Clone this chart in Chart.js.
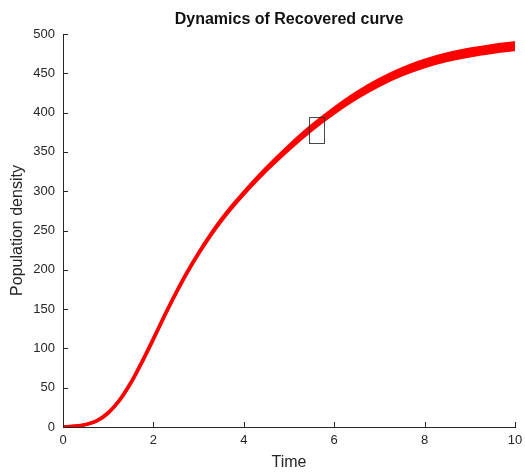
<!DOCTYPE html>
<html><head><meta charset="utf-8">
<script src="https://cdn.jsdelivr.net/npm/chart.js@4.4.1/dist/chart.umd.min.js"></script>
<style>html,body{margin:0;padding:0;background:#fff;}canvas{display:block;}</style>
</head><body>
<canvas id="c" width="525" height="473"></canvas>
<script>
const timeVals  = [0, 0.25, 0.5, 0.75, 1, 1.25, 1.5, 1.75, 2, 2.25, 2.5, 2.75, 3, 3.25, 3.5, 3.75, 4, 4.5, 5, 5.5, 6, 6.5, 7, 7.5, 8, 8.5, 9, 9.5, 10];
const upperVals = [0, 1, 3, 8, 18, 34, 56, 83.1, 112.2, 142.2, 170.8, 197.4, 221.5, 243.6, 263.8, 281.9, 298.6, 329.5, 357.5, 383, 405.4, 425.3, 442, 455.7, 466.4, 474.5, 480.6, 485.2, 488.8];
const lowerVals = [0, 1, 3, 8, 18, 34, 56, 82.9, 111.8, 141.8, 170.2, 196.6, 220.5, 242.4, 262.3, 280.1, 296.4, 326.5, 353.5, 378, 399.6, 418.8, 435, 448.3, 458.7, 466.5, 472.4, 476.8, 480.3];
const xTicks = [0, 2, 4, 6, 8, 10];
const yTicks = [0, 50, 100, 150, 200, 250, 300, 350, 400, 450, 500];
const boxT = [5.45, 5.78];
const boxV = [361, 394];
const titleText = 'Dynamics of Recovered curve';
const xLabel = 'Time';
const yLabel = 'Population density';

const axisColor = '#262626';
const FONT = '"Liberation Sans", Arial, Helvetica, sans-serif';

const inwardTicks = {
  id: 'inwardTicks',
  afterDraw(chart) {
    const {ctx, chartArea: a, scales: {x, y}} = chart;
    ctx.save();
    ctx.strokeStyle = axisColor;
    ctx.lineWidth = 1;
    ctx.beginPath();
    xTicks.forEach(v => { const px = Math.round(x.getPixelForValue(v)) + 0.5; ctx.moveTo(px, a.bottom); ctx.lineTo(px, a.bottom - 5); });
    yTicks.forEach(v => { const py = Math.round(y.getPixelForValue(v)) + 0.5; ctx.moveTo(a.left, py); ctx.lineTo(a.left + 5, py); });
    ctx.stroke();
    ctx.restore();
  }
};

const boxPlugin = {
  id: 'boxPlugin',
  afterDatasetsDraw(chart) {
    const {ctx, scales: {x, y}} = chart;
    const x0 = Math.round(x.getPixelForValue(boxT[0])) + 0.5;
    const x1 = Math.round(x.getPixelForValue(boxT[1])) + 0.5;
    const y0 = Math.round(y.getPixelForValue(boxV[1])) + 0.5;
    const y1 = Math.round(y.getPixelForValue(boxV[0])) + 0.5;
    ctx.save();
    ctx.strokeStyle = 'rgba(40,40,40,0.85)';
    ctx.lineWidth = 1;
    ctx.strokeRect(x0, y0, x1 - x0, y1 - y0);
    ctx.restore();
  }
};

new Chart(document.getElementById('c'), {
  type: 'line',
  data: {
    datasets: [
      { label: 'lower', data: timeVals.map((t, i) => ({x: t, y: lowerVals[i]})), borderColor: '#ff0000', borderWidth: 3.5, pointRadius: 0, fill: false, cubicInterpolationMode: 'monotone' },
      { label: 'upper', data: timeVals.map((t, i) => ({x: t, y: upperVals[i]})), borderColor: '#ff0000', backgroundColor: '#ff0000', borderWidth: 3.5, pointRadius: 0, fill: '-1', cubicInterpolationMode: 'monotone' }
    ]
  },
  options: {
    responsive: false,
    animation: false,
    devicePixelRatio: 1,
    layout: { padding: { left: 0, right: 10, top: 0, bottom: 0 } },
    plugins: {
      legend: { display: false },
      tooltip: { enabled: false },
      title: { display: true, text: titleText, fullSize: false, color: '#111', font: { family: FONT, size: 16, weight: 'bold' }, padding: { top: 10.4, bottom: 4.4 } }
    },
    scales: {
      x: {
        type: 'linear', min: 0, max: 10,
        ticks: { stepSize: 2, color: axisColor, font: { family: FONT, size: 13 }, padding: 6, maxRotation: 0 },
        grid: { display: true, drawOnChartArea: false, drawTicks: false },
        border: { display: true, color: axisColor, width: 1 },
        title: { display: true, text: xLabel, color: axisColor, font: { family: FONT, size: 16 }, padding: { top: 0, bottom: 0.4 } },
        afterFit(s) { s.height = 46; s.paddingRight = 0; s.paddingLeft = 0; }
      },
      y: {
        type: 'linear', min: 0, max: 500,
        ticks: { stepSize: 50, color: axisColor, font: { family: FONT, size: 13 }, padding: 8 },
        grid: { display: true, drawOnChartArea: false, drawTicks: false },
        border: { display: true, color: axisColor, width: 1 },
        title: { display: true, text: yLabel, color: axisColor, font: { family: FONT, size: 16 }, padding: { top: 8.4, bottom: 0 } },
        afterFit(s) { s.width = 63; }
      }
    }
  },
  plugins: [inwardTicks, boxPlugin]
});
</script>
</body></html>
